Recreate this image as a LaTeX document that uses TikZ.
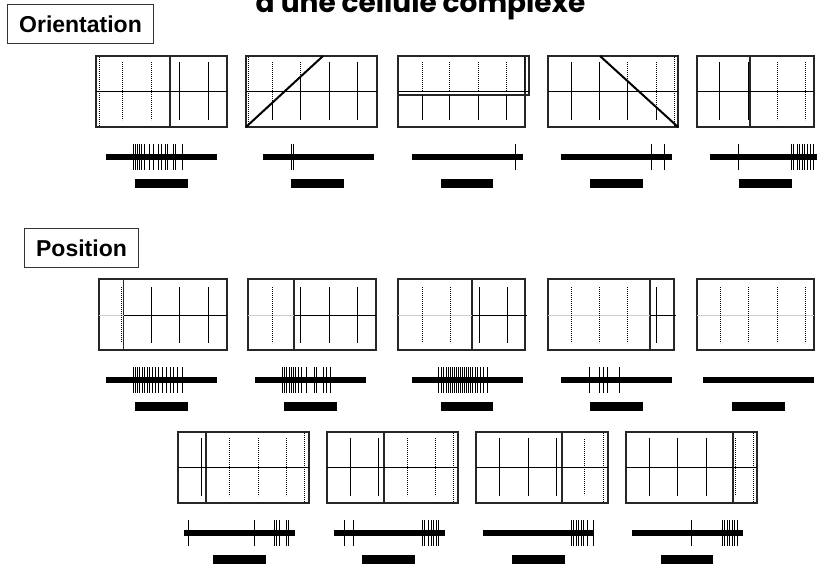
\documentclass[tikz,border=0pt]{standalone}
\usepackage{fontspec}
\setmainfont{Liberation Sans}
\newfontfamily\titlefont{Poppins}
\tikzset{
  field/.style   ={draw=black!85, line width=1.1pt},
  midline/.style ={line width=0.9pt},
  offmid/.style  ={line width=0.9pt, black!20},
  onbar/.style   ={line width=1pt},
  offbar/.style  ={line width=1pt, dash pattern=on 1.1pt off 0.9pt},
  edgeline/.style={line width=2pt},
  train/.style   ={line width=6pt},
  spike/.style   ={line width=0.9pt},
  stim/.style    ={line width=9pt},
  tag/.style     ={draw=black!80, line width=0.9pt, inner xsep=12pt,
                   minimum height=39pt, font=\fontsize{23}{26}\selectfont\bfseries}
}
\newcommand{\spiketrain}[3]{%
  \draw[train] (#1,101) -- (#2,101);
  \foreach \s in {#3} {\draw[spike] (\s,88) -- (\s,114);}
}
\newcommand{\stimbar}[2]{\draw[stim] (#1,127.5) -- (#2,127.5);}

\begin{document}
\begin{tikzpicture}[x=1pt, y=-1pt]
  \useasboundingbox (0,0) rectangle (817,563);
  \clip (0,0) rectangle (817,563);

  \node[anchor=base, font=\titlefont\fontsize{28}{31}\selectfont\bfseries]
       (title) at (420.5,12.5) {d'une cellule complexe};
  \node[tag] (orient) at (80.5,24)  {Orientation};
  \node[tag] (pos)    at (81.5,248) {Position};

  % orientation row
  \begin{scope}[shift={(0,56)}]
    \draw[field] (96,0) rectangle (227,71);
    \draw[field] (170,0) -- (170,71);
    \draw[midline] (96,35) -- (227,35);
    \draw[offbar] (99,1) -- (99,70);
    \foreach \x in {122,151} \draw[offbar] (\x,6) -- (\x,64);
    \foreach \x in {179,208} \draw[onbar] (\x,6) -- (\x,64);
    \spiketrain{106}{217}{133,135,137,139,141.5,144,149,153,158,161,165,167.5,173,175,182}
    \stimbar{135}{188}

    \draw[field] (246,0) rectangle (377,71);
    \draw[midline] (246,35) -- (377,35);
    \draw[offbar] (248,1) -- (248,70);
    \draw[offbar] (272,6) -- (272,47); \draw[onbar] (272,47) -- (272,64);
    \draw[offbar] (300,6) -- (300,21); \draw[onbar] (300,21) -- (300,64);
    \foreach \x in {329,357} \draw[onbar] (\x,6) -- (\x,64);
    \draw[edgeline] (246,71) -- (323,0);
    \spiketrain{263}{374}{291,293.5}
    \stimbar{291}{344}

    \draw[field] (398,0) rectangle (525,71);
    \draw[field] (398,0) rectangle (529,39);
    \draw[midline] (398,35) -- (529,35);
    \draw[offbar] (524,1) -- (524,37);
    \foreach \x in {422,449,478,506} {
      \draw[offbar] (\x,6) -- (\x,35);
      \draw[onbar] (\x,39) -- (\x,64);
    }
    \spiketrain{412}{523}{515}
    \stimbar{441}{493}

    \draw[field] (548,0) rectangle (678,71);
    \draw[midline] (548,35) -- (678,35);
    \draw[offbar] (674,1) -- (674,70);
    \foreach \x in {571,599} \draw[onbar] (\x,6) -- (\x,64);
    \draw[offbar] (627,6) -- (627,24.6); \draw[onbar] (627,24.6) -- (627,64);
    \draw[offbar] (656,6) -- (656,51); \draw[onbar] (656,51) -- (656,64);
    \draw[edgeline] (600,0) -- (678,71);
    \spiketrain{561}{672}{651,664}
    \stimbar{590}{643}

    \draw[field] (697,0) rectangle (814,71);
    \draw[field] (750,0) -- (750,71);
    \draw[midline] (697,35) -- (814,35);
    \foreach \x in {719,748} \draw[onbar] (\x,6) -- (\x,64);
    \foreach \x in {777,805} \draw[offbar] (\x,6) -- (\x,64);
    \spiketrain{710}{830}{738,791,793.5,797,799.5,802,804.5,807,810,813.5}
    \stimbar{739}{792}
  \end{scope}

  % position row, first line
  \begin{scope}[shift={(0,279)}]
    \draw[field] (99,0) rectangle (227,71);
    \draw[field] (123.5,0) -- (123.5,71);
    \draw[offmid] (99,36.5) -- (123.5,36.5);
    \draw[midline] (123.5,36.5) -- (227,36.5);
    \draw[offbar] (121.5,8) -- (121.5,64);
    \foreach \x in {151,179,208} \draw[onbar] (\x,8) -- (\x,64);
    \spiketrain{106}{217}{133,135,137,139.5,142,144.5,147,149.5,152,155,158,162,166,170,173,177,182}
    \stimbar{135}{188}

    \draw[field] (248,0) rectangle (376,71);
    \draw[field] (294,0) -- (294,71);
    \draw[offmid] (248,36.5) -- (294,36.5);
    \draw[midline] (294,36.5) -- (376,36.5);
    \draw[offbar] (272,8) -- (272,64);
    \foreach \x in {300,329,357} \draw[onbar] (\x,8) -- (\x,64);
    \spiketrain{255}{366}{282.3,284.5,286.7,289,291,293,295.5,298.3,301.7,306.7,314,316,323.3,326.7,330.7}
    \stimbar{284}{337}

    \draw[field] (398,0) rectangle (525,71);
    \draw[field] (472,0) -- (472,71);
    \draw[offmid] (398,36.5) -- (472,36.5);
    \draw[midline] (472,36.5) -- (527,36.5);
    \foreach \x in {422,450} \draw[offbar] (\x,8) -- (\x,64);
    \foreach \x in {479,507} \draw[onbar] (\x,8) -- (\x,64);
    \spiketrain{412}{523}{438,441,443.5,446,448,450,452,454,456,458,460,462,464,466,468,470,472.5,475,477.5,480,483,487}
    \stimbar{441}{493}

    \draw[field] (548,0) rectangle (674,71);
    \draw[field] (650,0) -- (650,71);
    \draw[offmid] (548,36.5) -- (650,36.5);
    \draw[midline] (650,36.5) -- (676,36.5);
    \foreach \x in {571,599,627} \draw[offbar] (\x,8) -- (\x,64);
    \draw[onbar] (656,8) -- (656,64);
    \spiketrain{561}{672}{589,599,603,607,619}
    \stimbar{590}{643}

    \draw[field] (697,0) rectangle (814,71);
    \draw[offmid] (697,36.5) -- (814,36.5);
    \foreach \x in {720,748,777,805} \draw[offbar] (\x,8) -- (\x,64);
    \draw[train] (703,101) -- (814,101);
    \stimbar{732}{785}
  \end{scope}

  % position row, second line
  \begin{scope}[shift={(0,432)}]
    \draw[field] (178,0) rectangle (309,71);
    \draw[field] (206,0) -- (206,71);
    \draw[midline] (178,35.5) -- (309,35.5);
    \draw[onbar] (201,6) -- (201,64);
    \foreach \x in {229,258,286} \draw[offbar] (\x,6) -- (\x,64);
    \draw[offbar] (304,1) -- (304,70);
    \spiketrain{184}{295}{188,254,274,276,279,286,288}
    \stimbar{213}{266}

    \draw[field] (327,0) rectangle (458,71);
    \draw[field] (384,0) -- (384,71);
    \draw[midline] (327,35.5) -- (458,35.5);
    \foreach \x in {350,378} \draw[onbar] (\x,6) -- (\x,64);
    \foreach \x in {407,435} \draw[offbar] (\x,6) -- (\x,64);
    \draw[offbar] (453,1) -- (453,70);
    \spiketrain{334}{445}{344,353,422,424,428,431,433.5,436,438}
    \stimbar{362}{415}

    \draw[field] (476,0) rectangle (608,71);
    \draw[field] (562,0) -- (562,71);
    \draw[midline] (476,35.5) -- (608,35.5);
    \foreach \x in {499,528,556} \draw[onbar] (\x,6) -- (\x,64);
    \draw[offbar] (584,7) -- (584,63);
    \draw[offbar] (603,1) -- (603,70);
    \spiketrain{483}{594}{571,573.5,576,578.5,581,583.5,587,593}
    \stimbar{512}{565}

    \draw[field] (626,0) rectangle (757,71);
    \draw[field] (733,0) -- (733,71);
    \draw[midline] (626,35.5) -- (757,35.5);
    \foreach \x in {649,677,706} \draw[onbar] (\x,6) -- (\x,64);
    \draw[offbar] (735.5,6) -- (735.5,64);
    \draw[offbar] (753,1) -- (753,70);
    \spiketrain{632}{743}{691,722,724.5,727,729.5,732,734.5,737}
    \stimbar{661}{713}
  \end{scope}
\end{tikzpicture}
\end{document}
